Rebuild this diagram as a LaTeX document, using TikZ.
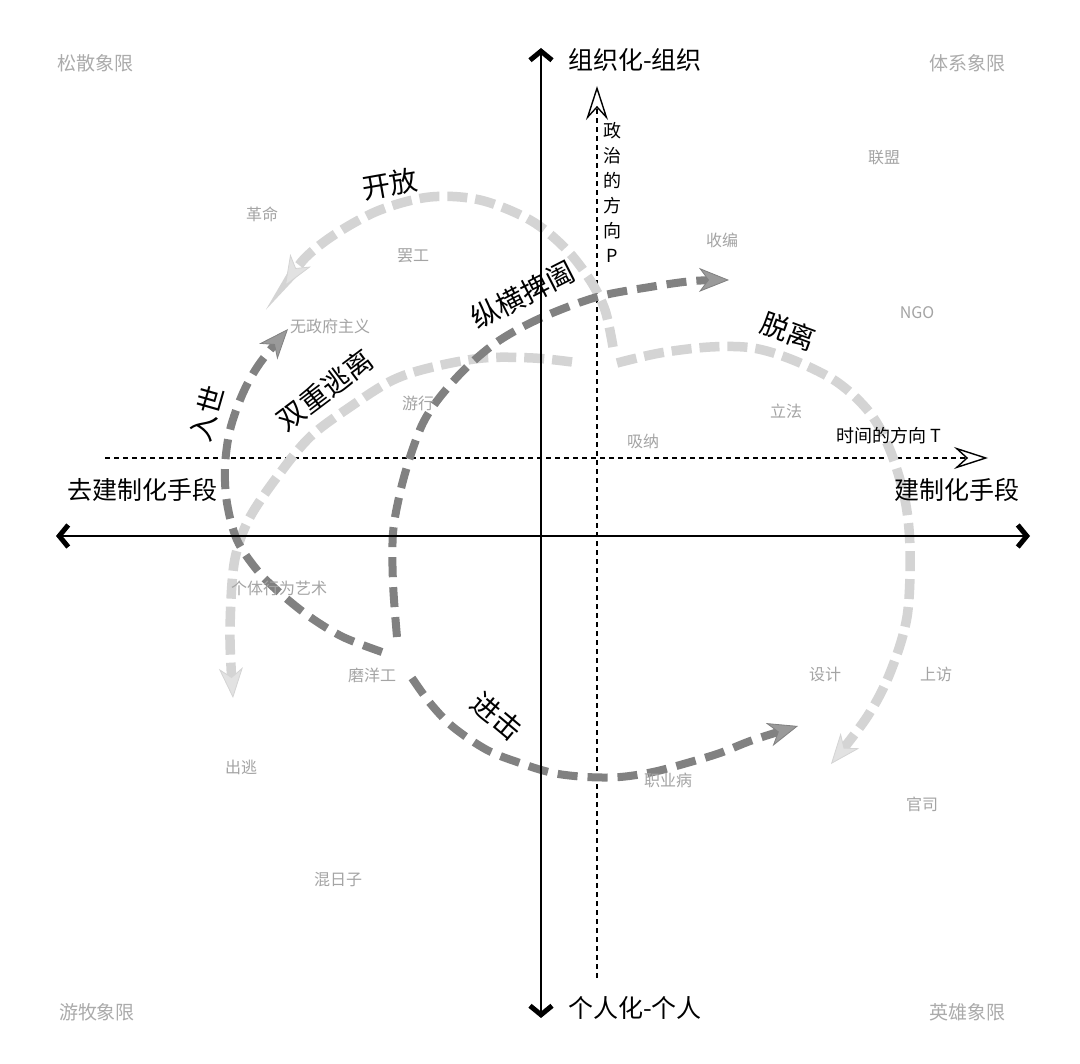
\documentclass[tikz,border=0pt]{standalone}
\usepackage{fontspec}
\setmainfont{Noto Sans CJK SC}
\usetikzlibrary{arrows.meta}
\definecolor{darkdash}{HTML}{818181}
\definecolor{darktip}{HTML}{9A9A9A}
\definecolor{lightdash}{HTML}{D4D4D4}
\definecolor{lighttip}{HTML}{E2E2E2}
\definecolor{labelgray}{HTML}{A4A4A4}
\definecolor{cornergray}{HTML}{ABABAB}
\tikzset{
  axislabel/.style={font=\fontsize{25}{30}\selectfont, text=black, inner sep=0pt},
  guidelabel/.style={font=\fontsize{18}{22}\selectfont, text=black, inner sep=0pt},
  itemlabel/.style={font=\fontsize{16}{20}\selectfont, text=labelgray, inner sep=0pt},
  cornerlabel/.style={font=\fontsize{19}{24}\selectfont, text=cornergray, inner sep=0pt},
  flowlabel/.style={font=\fontsize{28}{32}\selectfont, text=black, inner sep=0pt},
  darkflow/.style={draw=darkdash, line width=8pt, dash pattern=on 20pt off 10pt,
    -{Stealth[length=30pt,width=24pt,inset=9pt,line width=0.8pt,fill=darktip]}},
  lightflow/.style={draw=lightdash, line width=9.5pt, dash pattern=on 20pt off 8pt,
    -{Stealth[length=30pt,width=24pt,inset=9pt,line width=0.8pt,fill=lighttip]}},
  mainaxis/.style={line width=2.5pt, draw=black,
    {Straight Barb[length=9pt,width=22pt,line width=5pt]}-{Straight Barb[length=9pt,width=22pt,line width=5pt]}},
  guideline/.style={line width=1.2pt, draw=black, dash pattern=on 5pt off 4pt,
    -{Stealth[length=34pt,width=22pt,inset=12pt,line width=1.4pt,fill=white]}}
}
\begin{document}
\begin{tikzpicture}[x=1pt,y=-1pt]
  \useasboundingbox (0,0) rectangle (1080,1064);
  \fill[white] (0,0) rectangle (1080,1064);

  % guide lines
  \coordinate (tS) at (105,458);
  \coordinate (tE) at (988,458);
  \coordinate (pS) at (597,978);
  \coordinate (pE) at (597,86);
  \draw[guideline] (tS) -- (tE);
  \draw[guideline] (pS) -- (pE);

  % light flows
  \draw[lightflow] plot[smooth,tension=0.55] coordinates {(613,347) (605,310) (590,280) (565,248) (530,220) (480,200) (430,197) (380,210) (337,233) (305,258) (285,286)};
  \draw[lightflow] plot[smooth,tension=0.55] coordinates {(617,363) (660,353) (710,347) (753,348) (793,360) (837,382) (870,413) (890,450) (905,500) (910,550) (907,617) (890,673) (867,717) (831,764)};
  \draw[lightflow] plot[smooth,tension=0.55] coordinates {(572,362) (533,358) (483,358) (433,367) (393,380) (350,407) (310,437) (277,477) (250,517) (237,550) (232,583) (230,640) (233,698)};

  % dark flows
  \draw[darkflow] plot[smooth,tension=0.55] coordinates {(382,652) (343,637) (310,617) (280,593) (257,570) (237,540) (227,503) (225,467) (230,430) (243,393) (260,363) (288,329)};
  \draw[darkflow] plot[smooth,tension=0.55] coordinates {(397,637) (393,583) (393,533) (400,493) (410,457) (423,423) (440,397) (467,367) (500,340) (543,317) (597,297) (650,287) (693,281) (729,280)};
  \draw[darkflow] plot[smooth,tension=0.55] coordinates {(412,678) (430,703) (453,727) (487,750) (520,763) (553,773) (587,777) (620,777) (653,772) (687,763) (720,753) (753,740) (798,726)};

  % main axes
  \coordinate (yB) at (541,1018);
  \coordinate (yT) at (541,48);
  \coordinate (xL) at (56,536);
  \coordinate (xR) at (1030,536);
  \draw[mainaxis] (yB) -- (yT);
  \draw[mainaxis] (xL) -- (xR);

  % axis labels
  \node[axislabel, anchor=west] (org) at (568,60) {组织化-组织};
  \node[axislabel, anchor=west] (ind) at (568,1008) {个人化-个人};
  \node[axislabel] (deinst) at (142,490) {去建制化手段};
  \node[axislabel] (inst) at (957,490) {建制化手段};
  \node[guidelabel] (timelab) at (889,436) {时间的方向 T};
  \node[guidelabel, align=center, font=\fontsize{18}{25}\selectfont] (pollab) at (612,192) {政\\治\\的\\方\\向\\P};

  % corner labels
  \node[cornerlabel] (c1) at (95,63) {松散象限};
  \node[cornerlabel] (c2) at (967,63) {体系象限};
  \node[cornerlabel] (c3) at (97,1012) {游牧象限};
  \node[cornerlabel] (c4) at (967,1012) {英雄象限};

  % item labels
  \node[itemlabel] (l1) at (884,158) {联盟};
  \node[itemlabel] (l2) at (262,214) {革命};
  \node[itemlabel] (l3) at (413,256) {罢工};
  \node[itemlabel] (l4) at (722,240) {收编};
  \node[itemlabel] (l5) at (330,326) {无政府主义};
  \node[itemlabel] (l6) at (917,313) {NGO};
  \node[itemlabel] (l7) at (418,403) {游行};
  \node[itemlabel] (l8) at (786,411) {立法};
  \node[itemlabel] (l9) at (643,441) {吸纳};
  \node[itemlabel] (l10) at (279,588) {个体行为艺术};
  \node[itemlabel] (l11) at (372,675) {磨洋工};
  \node[itemlabel] (l12) at (825,674) {设计};
  \node[itemlabel] (l13) at (936,674) {上访};
  \node[itemlabel] (l14) at (241,767) {出逃};
  \node[itemlabel] (l15) at (668,780) {职业病};
  \node[itemlabel] (l16) at (922,804) {官司};
  \node[itemlabel] (l17) at (338,880) {混日子};

  % flow labels
  \node[flowlabel, rotate=10] (f1) at (390,184) {开放};
  \node[flowlabel, rotate=-20] (f2) at (788,331) {脱离};
  \node[flowlabel, rotate=37] (f3) at (325,390) {双重逃离};
  \node[flowlabel, rotate=27] (f4) at (523,295) {纵横捭阖};
  \node[flowlabel, rotate=74] (f5) at (207,414) {入世};
  \node[flowlabel, rotate=-40] (f6) at (497,716) {进击};
\end{tikzpicture}
\end{document}
